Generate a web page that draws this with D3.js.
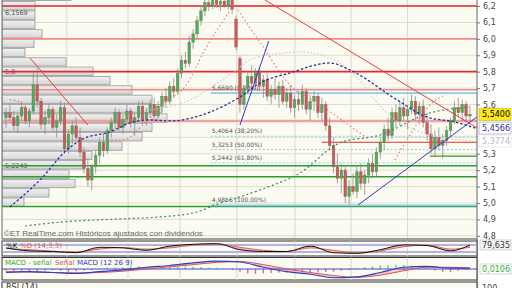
<!DOCTYPE html>
<html>
<head>
<meta charset="utf-8">
<script src="https://cdn.jsdelivr.net/npm/d3@7"></script>
<style>
  body { margin: 0; background: #fff; }
  svg { display: block; }
</style>
</head>
<body>
<div id="chart"></div>
<script>
// daily candles
const opens = [5.52,5.55,5.52,5.47,5.53,5.58,5.50,5.56,5.72,5.62,
  5.48,5.52,5.57,5.46,5.50,5.58,5.33,5.42,5.47,5.40,
  5.31,5.21,5.14,5.22,5.29,5.37,5.32,5.44,5.49,5.55,
  5.46,5.51,5.56,5.49,5.52,5.59,5.51,5.55,5.60,5.53,
  5.59,5.65,5.62,5.71,5.68,5.79,5.87,5.85,5.98,6.03,
  6.11,6.17,6.22,6.20,6.25,6.21,6.23,6.20,6.24,6.12,
  5.88,5.60,5.70,5.77,5.73,5.80,5.71,5.75,5.65,5.69,
  5.66,5.71,5.62,5.67,5.58,5.63,5.60,5.68,5.57,5.62,
  5.65,5.55,5.60,5.47,5.35,5.22,5.15,5.20,5.04,5.10,
  5.07,5.19,5.12,5.17,5.24,5.19,5.31,5.37,5.45,5.41,
  5.55,5.50,5.58,5.53,5.57,5.62,5.54,5.59,5.49,5.42,
  5.33,5.40,5.35,5.38,5.44,5.50,5.58,5.55,5.60,5.53];
const highs = [5.58,5.60,5.56,5.55,5.62,5.60,5.58,5.80,5.82,5.64,
  5.56,5.60,5.59,5.54,5.62,5.61,5.45,5.50,5.52,5.46,
  5.34,5.27,5.24,5.32,5.40,5.42,5.46,5.52,5.58,5.57,
  5.54,5.60,5.58,5.55,5.62,5.62,5.58,5.63,5.64,5.62,
  5.68,5.70,5.74,5.76,5.82,5.90,5.92,6.02,6.06,6.14,
  6.20,6.26,6.28,6.27,6.28,6.26,6.27,6.25,6.27,6.14,
  5.90,5.72,5.80,5.84,5.82,5.83,5.78,5.79,5.72,5.76,
  5.74,5.75,5.70,5.72,5.66,5.68,5.72,5.70,5.66,5.68,
  5.67,5.64,5.62,5.52,5.40,5.30,5.24,5.22,5.14,5.18,
  5.22,5.24,5.20,5.27,5.30,5.34,5.40,5.48,5.52,5.58,
  5.60,5.62,5.64,5.60,5.66,5.65,5.62,5.63,5.55,5.48,
  5.44,5.46,5.42,5.47,5.52,5.62,5.64,5.63,5.62,5.58];
const lows = [5.46,5.50,5.44,5.43,5.50,5.48,5.46,5.54,5.58,5.45,
  5.42,5.48,5.44,5.40,5.47,5.30,5.30,5.36,5.38,5.28,
  5.18,5.10,5.08,5.18,5.24,5.28,5.30,5.40,5.45,5.44,
  5.42,5.48,5.46,5.41,5.50,5.48,5.47,5.52,5.50,5.51,
  5.56,5.58,5.60,5.64,5.66,5.76,5.82,5.83,5.94,6.00,
  6.08,6.14,6.17,6.18,6.19,6.17,6.19,6.18,6.15,5.93,
  5.55,5.57,5.66,5.70,5.69,5.68,5.64,5.62,5.60,5.63,
  5.58,5.60,5.58,5.55,5.52,5.56,5.57,5.54,5.50,5.56,
  5.52,5.50,5.44,5.32,5.18,5.12,5.06,5.00,4.99,5.05,
  5.03,5.08,5.05,5.12,5.15,5.16,5.27,5.32,5.38,5.39,
  5.46,5.47,5.50,5.45,5.54,5.50,5.48,5.46,5.38,5.30,
  5.28,5.32,5.27,5.35,5.40,5.48,5.52,5.50,5.50,5.50];
const closes = [5.55,5.52,5.47,5.53,5.58,5.50,5.56,5.72,5.62,5.48,
  5.52,5.57,5.46,5.50,5.58,5.33,5.42,5.47,5.40,5.31,
  5.21,5.14,5.22,5.29,5.37,5.32,5.44,5.49,5.55,5.46,
  5.51,5.56,5.49,5.52,5.59,5.51,5.55,5.60,5.53,5.59,
  5.65,5.62,5.71,5.68,5.79,5.87,5.85,5.98,6.03,6.11,
  6.17,6.22,6.20,6.25,6.21,6.23,6.20,6.24,6.18,5.95,
  5.60,5.70,5.77,5.73,5.80,5.71,5.75,5.65,5.69,5.66,
  5.71,5.62,5.67,5.58,5.63,5.60,5.68,5.57,5.62,5.65,
  5.55,5.60,5.47,5.35,5.22,5.15,5.20,5.04,5.10,5.07,
  5.19,5.12,5.17,5.24,5.19,5.31,5.37,5.45,5.41,5.55,
  5.50,5.58,5.53,5.57,5.62,5.54,5.59,5.49,5.42,5.33,
  5.40,5.35,5.38,5.44,5.50,5.58,5.55,5.60,5.53,5.54];

// volume at price, bins of 0.057 starting at 4.976 (bottom up)
const volBinLow = 4.976, volBinSize = 0.057;
const volProfile = [22,47,73,67,82,90,120,140,150,165,160,150,130,108,91,64,23,32,40,33,33,33,69];
const volLabels = [{v: 6.1569, t: "6,1569"}, {v: 5.8, t: "5,8"}, {v: 5.2249, t: "5,2249"}];

// month separators (candle index)
const monthMarks = [15.6, 31.3, 44.6, 59.2, 74.1, 88.5, 103];
const priceTicks = [6.2,6.1,6.0,5.9,5.8,5.7,5.6,5.5,5.4,5.3,5.2,5.1,5.0,4.9,4.8];

// horizontal levels
const redLevels = [6.2, 5.8];
const paleRedLevels = [6.0, 5.69];
const pinkLevels = [5.5];
const shortRedLevel = {from: 81, v: 5.37};
const greenLevels = [5.227, 5.16, 4.978];
const shortGreenLevel = {from: 108.7, v: 5.286};
const fibStart = 52.5;
const fibLevels = [5.669, 5.4064, 5.3253, 5.2442, 4.9856];
const fibLabels = ["5,6690 (0,00%)", "5,4064 (38,20%)", "5,3253 (50,00%)", "5,2442 (61,80%)", "4,9856 (100,00%)"];

// trend lines [i1, p1, i2, p2]
const redTrends = [[66.4, 6.237, 121, 5.455], [6.15, 5.883, 21.0, 5.475]];
const blueTrends = [[90.3, 4.988, 121, 5.528], [60, 5.475, 67.4, 5.987]];

// moving averages (index, value)
const navyMA = [[1,4.976],[8.7,5.14],[15.6,5.323],[19.7,5.39],[26.7,5.433],[32.6,5.494],[36.9,5.506],[42.1,5.5],
  [52.3,5.554],[60,5.646],[65.1,5.731],[72.8,5.792],[83.1,5.853],[88.2,5.81],[100.3,5.628],[107.9,5.524],[115.1,5.494],[120.3,5.4566]];
const greyMA = [[36.9,5.567],[47.2,5.628],[53.6,5.719],[57.4,5.779],[62.6,5.871],[69,5.908],[75.4,5.92],[83.1,5.883],
  [89.5,5.78],[94.6,5.628],[99.7,5.506],[106.2,5.433],[112.6,5.396],[120.3,5.3774]];
const greenMA = [[4.9,4.86],[14.6,4.885],[29.2,4.903],[39.5,4.915],[49,4.945],[53.6,4.988],[65.1,5.079],[75.4,5.183],
  [85.6,5.366],[95.9,5.414],[108.7,5.548],[119,5.585]];
const redDots = [
  [[1,5.63],[3,5.62],[5,5.57]],
  [[25.9,5.384],[30,5.384],[35.6,5.488],[41.3,5.622],[45.9,5.707],[51,5.932],[57.9,6.188]],
  [[59.5,6.176],[65.6,5.963],[72.8,5.72],[80.5,5.6],[87,5.49],[93.3,5.384]],
  [[99.7,5.262],[103.6,5.414],[108.7,5.597],[112.6,5.658]]
];

// oscillators, sampled every 6 candles
const oscIdx = [0,6,12,18,24,30,36,42,48,54,60,66,72,78,84,90,96,102,108,114,119];
const stochK = [55,30,25,15,60,55,35,70,85,90,40,25,25,70,15,10,40,80,75,30,79.635];
const stochD = [50,40,28,20,45,58,45,55,78,88,60,35,25,55,35,12,30,65,78,45,60];
const macdLine = [-0.04,-0.03,-0.04,-0.05,-0.03,-0.01,0.02,0.04,0.07,0.09,0.08,0.02,-0.03,-0.06,-0.10,-0.09,-0.04,0.02,0.03,0.01,0.0106];
const signalLine = [-0.03,-0.035,-0.04,-0.045,-0.04,-0.025,0,0.025,0.05,0.075,0.085,0.05,0.0,-0.04,-0.075,-0.095,-0.07,-0.02,0.02,0.02,0.01];
// histogram every 2 candles
const macdHist = [-0.02,-0.03,-0.02,-0.025,-0.03,-0.02,-0.015,-0.02,-0.03,-0.025,-0.02,-0.01,0.0,0.01,0.015,
  0.02,0.025,0.03,0.025,0.02,0.02,0.025,0.03,0.03,0.025,0.02,0.015,0.01,0.0,-0.01,
  -0.03,-0.05,-0.055,-0.05,-0.045,-0.04,-0.04,-0.035,-0.04,-0.045,-0.04,-0.035,-0.03,-0.02,-0.01,
  0.01,0.02,0.03,0.04,0.045,0.05,0.045,0.04,0.03,0.01,-0.02,-0.03,-0.035,-0.02,-0.01];

const axisMarks = [5.54, 5.4566, 5.3774];

const width = 512, height = 288;
const plotL = 2, plotR = 477, mainBottom = 239;
const fmt = (v, d) => v.toFixed(d).replace(".", ",");

const svg = d3.select("#chart").append("svg")
  .attr("width", width).attr("height", height)
  .style("font-family", "'DejaVu Sans', sans-serif");

const x = d3.scaleLinear().domain([0, 119]).range([6, 470]);
const y = d3.scaleLinear().domain([5.0, 6.2]).range([203, 6]);
const xv = d3.scaleLinear().domain([0, 170]).range([plotL, plotL + 170]);

svg.append("rect").attr("width", width).attr("height", height).attr("fill", "#fff");

const defs = svg.append("defs");
defs.append("clipPath").attr("id", "mainclip").append("rect")
  .attr("x", plotL).attr("y", 0).attr("width", plotR - plotL).attr("height", mainBottom);
const grad = defs.append("linearGradient").attr("id", "volgrad").attr("x1", 0).attr("y1", 0).attr("x2", 0).attr("y2", 1);
grad.append("stop").attr("offset", "0%").attr("stop-color", "#f2f2f2");
grad.append("stop").attr("offset", "100%").attr("stop-color", "#d4d4d4");

const main = svg.append("g").attr("clip-path", "url(#mainclip)");
main.append("rect").attr("x", plotL).attr("y", 0).attr("width", plotR - plotL).attr("height", mainBottom).attr("fill", "#fbfbf1");

// grid
main.append("g").selectAll("line").data(priceTicks).join("line")
  .attr("x1", plotL).attr("x2", plotR).attr("y1", d => y(d)).attr("y2", d => y(d))
  .attr("stroke", "#dcdcd0").attr("stroke-width", 1);
main.append("g").selectAll("line").data(monthMarks).join("line")
  .attr("x1", d => x(d)).attr("x2", d => x(d)).attr("y1", 0).attr("y2", mainBottom)
  .attr("stroke", "#d8d8cc").attr("stroke-width", 1);

// volume profile
main.append("g").selectAll("rect").data(volProfile).join("rect")
  .attr("x", plotL)
  .attr("y", (d, i) => y(volBinLow + (i + 1) * volBinSize) + 0.5)
  .attr("width", d => xv(d) - plotL)
  .attr("height", y(volBinLow) - y(volBinLow + volBinSize) - 1)
  .attr("fill", "url(#volgrad)").attr("stroke", "#9a9a9a").attr("stroke-width", 0.8);
main.append("g").selectAll("text").data(volLabels).join("text")
  .attr("x", 5).attr("y", d => y(d.v) + 2)
  .attr("font-size", 6.5).attr("fill", "#555").text(d => d.t);

// levels
function hline(g, v, from, color, w, dash) {
  g.append("line").attr("x1", from).attr("x2", plotR).attr("y1", y(v)).attr("y2", y(v))
    .attr("stroke", color).attr("stroke-width", w).attr("stroke-dasharray", dash || null);
}
const lv = main.append("g");
greenLevels.forEach(v => hline(lv, v, plotL, "#2f9a2f", 1.5));
hline(lv, shortGreenLevel.v, x(shortGreenLevel.from), "#2f9a2f", 1.2);
fibLevels.forEach((v, i) => {
  const solid = i === 0 || i === fibLevels.length - 1;
  hline(lv, v, x(fibStart), "#86cdf0", solid ? 1.8 : 1, solid ? null : "2,2");
});
pinkLevels.forEach(v => hline(lv, v, plotL, "#f2a0a0", 2.5));
paleRedLevels.forEach(v => hline(lv, v, plotL, "#f28a8a", 1.6));
redLevels.forEach(v => hline(lv, v, plotL, "#e8262b", 1.6));
hline(lv, shortRedLevel.v, x(shortRedLevel.from), "#e03030", 1);

lv.selectAll("text.fib").data(fibLevels).join("text").attr("class", "fib")
  .attr("x", x(fibStart) + 1).attr("y", d => y(d) - 3)
  .attr("font-size", 6).attr("fill", "#555").text((d, i) => fibLabels[i]);

// candles
const candles = main.append("g");
const idx = d3.range(closes.length);
candles.selectAll("line").data(idx).join("line")
  .attr("x1", i => x(i)).attr("x2", i => x(i))
  .attr("y1", i => y(highs[i])).attr("y2", i => y(lows[i]))
  .attr("stroke", "#8a8a8a").attr("stroke-width", 0.8);
candles.selectAll("rect").data(idx).join("rect")
  .attr("x", i => x(i) - 1.3).attr("width", 2.6)
  .attr("y", i => y(Math.max(opens[i], closes[i])))
  .attr("height", i => Math.max(1, Math.abs(y(opens[i]) - y(closes[i]))))
  .attr("fill", i => closes[i] >= opens[i] ? "#4cb050" : "#d9534f")
  .attr("stroke", "#6a6a6a").attr("stroke-width", 0.4);

// dotted moving averages
const ln = d3.line().x(d => x(d[0])).y(d => y(d[1])).curve(d3.curveMonotoneX);
main.append("path").attr("d", ln(greenMA)).attr("fill", "none")
  .attr("stroke", "#3c8a5a").attr("stroke-width", 1.2).attr("stroke-dasharray", "2,2.5");
main.append("path").attr("d", ln(greyMA)).attr("fill", "none")
  .attr("stroke", "#c8c8c8").attr("stroke-width", 1.1).attr("stroke-dasharray", "1.5,2");
redDots.forEach(s => main.append("path").attr("d", ln(s)).attr("fill", "none")
  .attr("stroke", "#f07070").attr("stroke-width", 1.1).attr("stroke-dasharray", "1.5,2.5"));
main.append("path").attr("d", ln(navyMA)).attr("fill", "none")
  .attr("stroke", "#2a2aa0").attr("stroke-width", 1.3).attr("stroke-dasharray", "2.5,2");

// trend lines
main.append("g").selectAll("line").data(redTrends).join("line")
  .attr("x1", d => x(d[0])).attr("y1", d => y(d[1])).attr("x2", d => x(d[2])).attr("y2", d => y(d[3]))
  .attr("stroke", "#f03a3a").attr("stroke-width", 1);
main.append("g").selectAll("line").data(blueTrends).join("line")
  .attr("x1", d => x(d[0])).attr("y1", d => y(d[1])).attr("x2", d => x(d[2])).attr("y2", d => y(d[3]))
  .attr("stroke", "#3535c0").attr("stroke-width", 1);

main.append("text").attr("x", 4).attr("y", 236)
  .attr("font-family", "'Liberation Sans', Arial, sans-serif").attr("font-size", 8).attr("fill", "#666")
  .text("©ET RealTime.com  Históricos ajustados con dividendos");

// frame of main panel
svg.append("line").attr("x1", plotL).attr("x2", plotL).attr("y1", 0).attr("y2", mainBottom).attr("stroke", "#666");
svg.append("line").attr("x1", plotL).attr("x2", plotR).attr("y1", mainBottom).attr("y2", mainBottom).attr("stroke", "#444").attr("stroke-width", 1.2);
svg.append("line").attr("x1", plotR).attr("x2", plotR).attr("y1", 0).attr("y2", height).attr("stroke", "#666");

// right axis; ticks hidden behind the value boxes are left out
const visibleTicks = priceTicks.filter(t => axisMarks.every(m => Math.abs(y(t) - y(m)) > 8));
const yAxis = svg.append("g").attr("transform", `translate(${plotR},0)`)
  .call(d3.axisRight(y).tickValues(visibleTicks).tickSize(3).tickFormat(d => fmt(d, 1)));
yAxis.select(".domain").remove();
yAxis.selectAll("text").attr("font-size", 8).attr("fill", "#444").attr("font-family", "'DejaVu Sans', sans-serif");
yAxis.selectAll("line").attr("stroke", "#777");

const markStyle = [
  {bg: "#ffe81a", fg: "#000", stroke: "#c8b400"},
  {bg: "#fff", fg: "#2a2aa0", stroke: "#9090d0"},
  {bg: "#fff", fg: "#bbb", stroke: "#ddd"}
];
const marks = svg.append("g").selectAll("g").data(axisMarks).join("g")
  .attr("transform", d => `translate(${plotR + 2},${y(d)})`);
marks.append("rect").attr("x", 0).attr("y", -6).attr("width", 32).attr("height", 12)
  .attr("fill", (d, i) => markStyle[i].bg).attr("stroke", (d, i) => markStyle[i].stroke).attr("stroke-width", 0.6);
marks.append("text").attr("x", 3).attr("y", 3).attr("font-size", 8)
  .attr("fill", (d, i) => markStyle[i].fg).text(d => fmt(d, 4));

// stochastic panel
const stTop = 241, stBot = 256;
const sy = d3.scaleLinear().domain([0, 100]).range([254.5, 242.5]);
svg.append("rect").attr("x", plotL).attr("y", stTop).attr("width", plotR - plotL).attr("height", stBot - stTop)
  .attr("fill", "#fbfbf1").attr("stroke", "#333");
svg.append("g").selectAll("line").data(monthMarks).join("line")
  .attr("x1", d => x(d)).attr("x2", d => x(d)).attr("y1", stTop).attr("y2", stBot).attr("stroke", "#d8d8cc");
[80, 20].forEach(v => svg.append("line").attr("x1", plotL).attr("x2", plotR).attr("y1", sy(v)).attr("y2", sy(v))
  .attr("stroke", "#9a9ae6").attr("stroke-width", 1.5));
const stData = oscIdx.map((d, i) => [d, stochK[i], stochD[i]]);
svg.append("path").datum(stData).attr("fill", "#f5b8b8")
  .attr("d", d3.area().x(d => x(d[0])).y0(d => sy(d[1])).y1(d => sy(d[2])).curve(d3.curveMonotoneX));
svg.append("path").datum(stData).attr("fill", "none").attr("stroke", "#e36060").attr("stroke-width", 1)
  .attr("d", d3.line().x(d => x(d[0])).y(d => sy(d[2])).curve(d3.curveMonotoneX));
svg.append("path").datum(stData).attr("fill", "none").attr("stroke", "#111").attr("stroke-width", 1)
  .attr("d", d3.line().x(d => x(d[0])).y(d => sy(d[1])).curve(d3.curveMonotoneX));
svg.append("text").attr("x", 6).attr("y", 248).attr("font-size", 7).attr("fill", "#111").text("%K");
svg.append("text").attr("x", 20).attr("y", 248).attr("font-size", 7).attr("fill", "#e05a5a").text("%D (14,3,3)");
const lastK = stochK[stochK.length - 1];
svg.append("rect").attr("x", plotR + 3).attr("y", sy(lastK) - 5).attr("width", 31).attr("height", 10)
  .attr("fill", "#f4f4f4").attr("stroke", "#bbb").attr("stroke-width", 0.6);
svg.append("text").attr("x", plotR + 5).attr("y", sy(lastK) + 3).attr("font-size", 8).attr("fill", "#333")
  .text(fmt(lastK, 3));

// MACD panel
const mTop = 257.5, mBot = 280;
const my = d3.scaleLinear().domain([-0.12, 0.12]).range([279.5, 258.5]);
svg.append("rect").attr("x", plotL).attr("y", mTop).attr("width", plotR - plotL).attr("height", mBot - mTop)
  .attr("fill", "#fbfbf1").attr("stroke", "#333");
svg.append("g").selectAll("line").data(monthMarks).join("line")
  .attr("x1", d => x(d)).attr("x2", d => x(d)).attr("y1", mTop).attr("y2", mBot).attr("stroke", "#d8d8cc");
svg.append("g").selectAll("line").data(macdHist).join("line")
  .attr("x1", (d, i) => x(i * 2)).attr("x2", (d, i) => x(i * 2))
  .attr("y1", my(0)).attr("y2", d => my(d))
  .attr("stroke", d => d >= 0 ? "#6cc86c" : "#ec6a6a").attr("stroke-width", 1.4);
const mData = oscIdx.map((d, i) => [d, macdLine[i], signalLine[i]]);
svg.append("path").datum(mData).attr("fill", "#f3c0c0").attr("opacity", 0.8)
  .attr("d", d3.area().x(d => x(d[0])).y0(d => my(d[1])).y1(d => my(d[2])).curve(d3.curveMonotoneX));
svg.append("line").attr("x1", plotL).attr("x2", plotR).attr("y1", my(0)).attr("y2", my(0)).attr("stroke", "#3a48d8").attr("stroke-width", 1);
svg.append("path").datum(mData).attr("fill", "none").attr("stroke", "#e05050").attr("stroke-width", 1)
  .attr("d", d3.line().x(d => x(d[0])).y(d => my(d[2])).curve(d3.curveMonotoneX));
svg.append("path").datum(mData).attr("fill", "none").attr("stroke", "#2e3cc8").attr("stroke-width", 1.2)
  .attr("d", d3.line().x(d => x(d[0])).y(d => my(d[1])).curve(d3.curveMonotoneX));
svg.append("text").attr("x", 5).attr("y", 265).attr("font-size", 7).attr("fill", "#3aa83a").text("MACD - señal");
svg.append("text").attr("x", 55).attr("y", 265).attr("font-size", 7).attr("fill", "#e05050").text("Señal");
svg.append("text").attr("x", 77).attr("y", 265).attr("font-size", 7).attr("fill", "#2e3cc8").text("MACD (12 26 9)");
svg.append("rect").attr("x", plotR + 3).attr("y", my(0) - 5).attr("width", 31).attr("height", 10)
  .attr("fill", "#fff").attr("stroke", "#bbb").attr("stroke-width", 0.6);
svg.append("text").attr("x", plotR + 5).attr("y", my(0) + 3).attr("font-size", 8).attr("fill", "#3aa83a")
  .text(fmt(macdLine[macdLine.length - 1], 4));

// RSI panel (cut off by the frame)
svg.append("rect").attr("x", plotL).attr("y", 282).attr("width", plotR - plotL).attr("height", 20)
  .attr("fill", "#fbfbf1").attr("stroke", "#333");
svg.append("text").attr("x", 6).attr("y", 290).attr("font-size", 8).attr("fill", "#333").text("RSI (14)");
svg.append("text").attr("x", plotR + 5).attr("y", 291).attr("font-size", 8).attr("fill", "#444").text("100");
</script>
</body>
</html>
